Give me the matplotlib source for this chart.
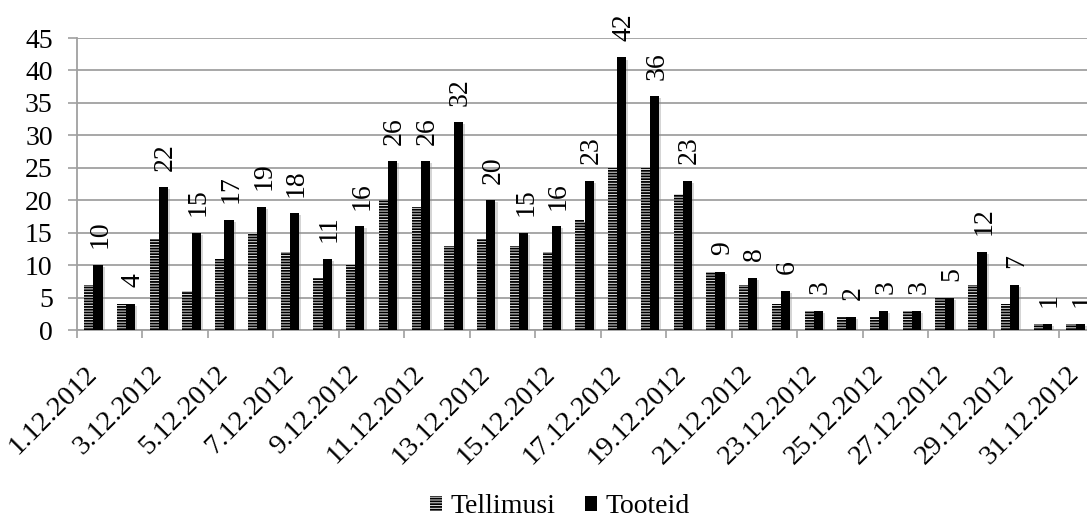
import numpy as np
import matplotlib
matplotlib.use("Agg")
import matplotlib.pyplot as plt
import matplotlib.patheffects as pe
from matplotlib.patches import Patch

# daily counts for December 2012
days = list(range(1, 32))
date_labels = [f"{d}.12.2012" for d in days]
tellimusi = [7, 4, 14, 6, 11, 15, 12, 8, 10, 20, 19, 13, 14, 13, 12, 17,
             25, 25, 21, 9, 7, 4, 3, 2, 2, 3, 5, 7, 4, 1, 1]
tooteid = [10, 4, 22, 15, 17, 19, 18, 11, 16, 26, 26, 32, 20, 15, 16, 23,
           42, 36, 23, 9, 8, 6, 3, 2, 3, 3, 5, 12, 7, 1, 1]

plt.rcParams['font.family'] = ['Liberation Serif', 'DejaVu Serif']
plt.rcParams['hatch.linewidth'] = 1.3

fig = plt.figure(figsize=(10.87, 5.19), dpi=100)
ax = fig.add_axes([77 / 1087, 189 / 519, 1015 / 1087, 292 / 519])

x = np.arange(len(days))
w = 0.28
shadow = [pe.SimplePatchShadow(offset=(1.5, -1.5), shadow_rgbFace='#888888', alpha=0.35), pe.Normal()]

b1 = ax.bar(x - w / 2, tellimusi, w, facecolor='#e6e6e6', edgecolor='black',
            linewidth=0, hatch='------', zorder=3)
b2 = ax.bar(x + w / 2, tooteid, w, color='black', linewidth=0, zorder=3)
for r in list(b1) + list(b2):
    r.set_path_effects(shadow)

for xi, v in zip(x, tooteid):
    ax.annotate(str(v), (xi + w / 2, v), xytext=(1.5, 12), textcoords='offset points',
                rotation=90, ha='center', va='bottom', fontsize=20, clip_on=False)

ax.set_xlim(-0.5, len(days) - 0.5)
ax.set_ylim(0, 45)
ax.set_yticks(range(0, 46, 5))
ax.tick_params(axis='y', labelsize=20, length=6.5, width=1.2, color='#a0a0a0', pad=11)
ax.grid(axis='y', color='#a0a0a0', linewidth=1.3, zorder=0)
ax.set_axisbelow(True)

# boundary ticks every second day, labels on odd days
ax.set_xticks(np.arange(-0.5, len(days), 2))
ax.set_xticklabels([])
ax.tick_params(axis='x', which='major', length=6, width=1.2, color='#a0a0a0')
ax.set_xticks(x[::2], minor=True)
ax.set_xticklabels(date_labels[::2], minor=True, rotation=45, ha='right',
                   va='center', rotation_mode='anchor', fontsize=20.5)
ax.tick_params(axis='x', which='minor', length=0, pad=29)

for s in ['top', 'right']:
    ax.spines[s].set_visible(False)
for s in ['left', 'bottom']:
    ax.spines[s].set_color('#a0a0a0')
    ax.spines[s].set_linewidth(1.3)

handles = [Patch(facecolor='#e6e6e6', edgecolor='black', linewidth=0, hatch='------', label='Tellimusi'),
           Patch(facecolor='black', label='Tooteid')]
fig.legend(handles=handles, loc='center', bbox_to_anchor=(0.515, 0.024), ncol=2,
           frameon=False, fontsize=20, handlelength=0.45, handleheight=0.45,
           handletextpad=0.3, columnspacing=1.05)

fig.savefig('out.png', dpi=100)
